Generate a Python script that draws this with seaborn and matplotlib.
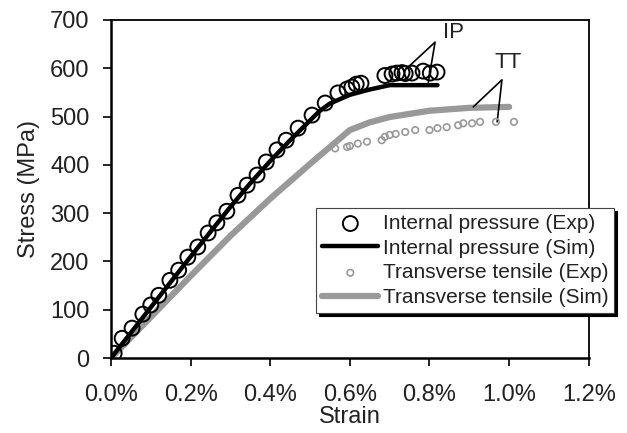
import matplotlib
matplotlib.use('Agg')
import matplotlib.pyplot as plt
import matplotlib.ticker as mticker
import pandas as pd
import seaborn as sns

# ---------------------------
# Data (strain in %, stress in MPa)
# ---------------------------
ip_exp_strain = [0.008, 0.028, 0.053, 0.08, 0.10, 0.12, 0.148, 0.17, 0.193, 0.218,
                 0.244, 0.266, 0.291, 0.319, 0.342, 0.367, 0.39, 0.417, 0.44, 0.47,
                 0.505, 0.538, 0.57, 0.593, 0.605, 0.616, 0.628,
                 0.688, 0.706, 0.718, 0.731, 0.739, 0.756, 0.784, 0.802, 0.819]
ip_exp_stress = [10, 41, 62, 91, 110, 130, 161, 182, 209, 230,
                 259, 280, 304, 337, 358, 379, 406, 431, 451, 476,
                 503, 528, 549, 557, 561, 567, 569,
                 585, 588, 590, 591, 589, 590, 594, 590, 592]

ip_sim_strain = [0, 0.1, 0.2, 0.3, 0.35, 0.4, 0.45, 0.5, 0.525, 0.55, 0.6, 0.65, 0.70, 0.82]
ip_sim_stress = [0, 105, 210, 313, 362, 408, 451, 492, 512, 527, 545, 556, 565, 565]

tt_exp_strain = [0.563, 0.593, 0.60, 0.62, 0.643, 0.68, 0.688, 0.70, 0.715, 0.739,
                 0.764, 0.80, 0.82, 0.843, 0.872, 0.885, 0.907, 0.927, 0.967, 1.012]
tt_exp_stress = [434, 437, 439, 444, 448, 451, 458, 462, 464, 468,
                 472, 472, 476, 478, 482, 486, 486, 489, 489, 489]

tt_sim_strain = [0, 0.1, 0.2, 0.3, 0.4, 0.5, 0.55, 0.6, 0.65, 0.7, 0.8, 0.9, 1.0]
tt_sim_stress = [0, 85, 170, 253, 330, 402, 437, 472, 488, 499, 512, 518, 520]

# ---------------------------
# Style
# ---------------------------
sns.set_style("ticks")
plt.rcParams['font.family'] = ['Liberation Sans', 'DejaVu Sans']

fig = plt.figure(figsize=(6.27, 4.33), dpi=100)
ax = fig.add_axes([0.177, 0.173, 0.762, 0.781])

GRAY = "#999999"
TXT = "#222222"

sns.lineplot(x=tt_sim_strain, y=tt_sim_stress, ax=ax, color=GRAY, linewidth=4.5,
             label="Transverse tensile (Sim)", zorder=2)
sns.lineplot(x=ip_sim_strain, y=ip_sim_stress, ax=ax, color="black", linewidth=3.2,
             label="Internal pressure (Sim)", zorder=3)
sns.scatterplot(x=tt_exp_strain, y=tt_exp_stress, ax=ax, marker="o", s=22,
                facecolor="none", edgecolor=GRAY, linewidth=1.2,
                label="Transverse tensile (Exp)", zorder=4)
sns.scatterplot(x=ip_exp_strain, y=ip_exp_stress, ax=ax, marker="o", s=115,
                facecolor="none", edgecolor="black", linewidth=1.4,
                label="Internal pressure (Exp)", zorder=5)

# annotations
ax.text(0.86, 673, "IP", fontsize=16, ha="center", va="center", color=TXT)
ax.plot([0.746, 0.814, 0.797], [602, 654, 571], color="black", lw=1.2)
ax.text(0.998, 611, "TT", fontsize=16, ha="center", va="center", color=TXT)
ax.plot([0.91, 0.982, 0.97], [520, 576, 489], color="black", lw=1.2)

ax.set_xlim(0, 1.2)
ax.set_ylim(0, 700)
ax.set_xticks([0, 0.2, 0.4, 0.6, 0.8, 1.0, 1.2])
ax.set_yticks(range(0, 701, 100))
ax.xaxis.set_major_formatter(mticker.FuncFormatter(lambda v, p: f"{v:.1f}%"))
ax.tick_params(labelsize=17, length=6, width=1.2, color="black", labelcolor=TXT)
ax.tick_params(axis="x", pad=13)
ax.tick_params(axis="y", pad=9.5)
ax.set_xlabel("Strain", fontsize=17, color=TXT, labelpad=0)
ax.set_ylabel("Stress (MPa)", fontsize=17, color=TXT, labelpad=7)

for side in ["left", "bottom"]:
    ax.spines[side].set_linewidth(1.8)
for side in ["top", "right"]:
    ax.spines[side].set_visible(True)
    ax.spines[side].set_linewidth(1.3)
for sp in ax.spines.values():
    sp.set_color("black")

handles, labels = ax.get_legend_handles_labels()
order = ["Internal pressure (Exp)", "Internal pressure (Sim)",
         "Transverse tensile (Exp)", "Transverse tensile (Sim)"]
hmap = dict(zip(labels, handles))
leg = ax.legend([hmap[k] for k in order], order, loc="lower left",
                bbox_to_anchor=(0.429, 0.133), fontsize=15, frameon=True,
                fancybox=False, shadow={'color': 'black', 'alpha': 1},
                handlelength=2.7, handletextpad=0.2, borderpad=0.3, labelspacing=0.27,
                borderaxespad=0)
for t in leg.get_texts():
    t.set_color(TXT)
leg.get_frame().set_edgecolor("#444444")
leg.get_frame().set_linewidth(0.8)
leg.get_frame().set_alpha(1)

fig.savefig("out.png", dpi=100)
